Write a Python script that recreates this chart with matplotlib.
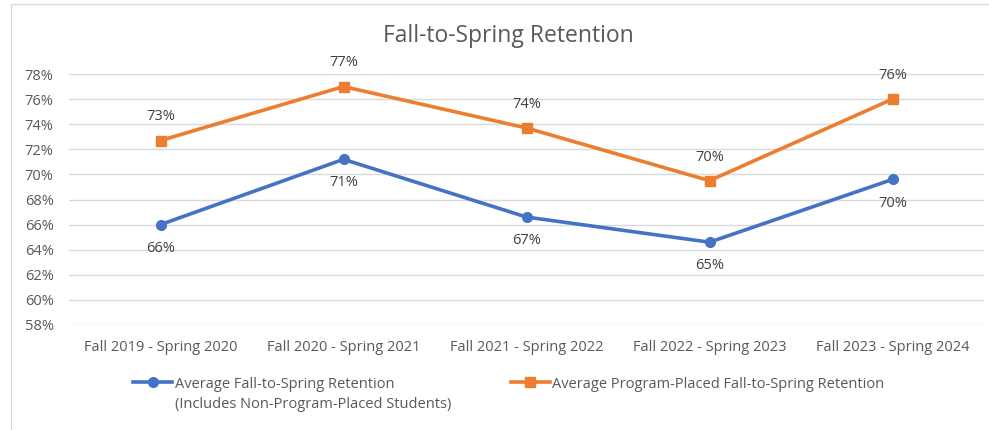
import numpy as np
import matplotlib.pyplot as plt
from matplotlib.patches import Rectangle

plt.rcParams['font.family'] = ['Open Sans', 'DejaVu Sans']

terms = ['Fall 2019 - Spring 2020', 'Fall 2020 - Spring 2021', 'Fall 2021 - Spring 2022',
         'Fall 2022 - Spring 2023', 'Fall 2023 - Spring 2024']
avg_all = [66.0, 71.2, 66.6, 64.6, 69.6]
avg_placed = [72.7, 77.0, 73.7, 69.5, 76.0]
yticks = list(range(58, 80, 2))

blue = '#4472C4'
orange = '#ED7D31'
txt = '#595959'

fig = plt.figure(figsize=(9.89, 4.30), dpi=100)
# chart frame (left and top edges visible, rest cropped)
fig.patches.append(Rectangle((11 / 989, -0.1), 1.1, 1.1 - 4 / 430,
                             transform=fig.transFigure, fill=False,
                             edgecolor='#d9d9d9', linewidth=1))
ax = fig.add_axes([69 / 989, 1 - 325 / 430, (984 - 69) / 989, (325 - 74) / 430])

x = np.arange(len(terms))
ax.plot(x, avg_all, color=blue, linewidth=2.6, marker='o', markersize=7,
        label='Average Fall-to-Spring Retention', zorder=3)
ax.plot(x, avg_placed, color=orange, linewidth=2.6, marker='s', markersize=7,
        label='Average Program-Placed Fall-to-Spring Retention', zorder=3)

for i in range(len(terms)):
    ax.annotate(f'{avg_all[i]:.0f}%', (x[i], avg_all[i]), xytext=(0, -17),
                textcoords='offset points', ha='center', va='center', fontsize=10.5, color='#404040')
    ax.annotate(f'{avg_placed[i]:.0f}%', (x[i], avg_placed[i]), xytext=(0, 17),
                textcoords='offset points', ha='center', va='center', fontsize=10.5, color='#404040')

ax.set_xlim(-0.5, 4.5)
ax.set_ylim(58, 78)
ax.set_yticks(yticks)
ax.set_yticklabels([f'{t}%' for t in yticks])
ax.set_xticks(x)
ax.set_xticklabels(terms)
ax.tick_params(length=0, colors=txt, labelsize=10.5)
ax.tick_params(axis='x', pad=11)
ax.tick_params(axis='y', pad=11)
ax.grid(axis='y', color='#d9d9d9', linewidth=1)
ax.set_axisbelow(True)
for s in ax.spines.values():
    s.set_visible(False)

fig.text(508 / 989, 1 - 36 / 430, 'Fall-to-Spring Retention', ha='center', va='center',
         fontsize=16.5, color=txt)

leg = fig.legend(loc='center left', bbox_to_anchor=(133 / 989, 1 - 384 / 430), ncol=2,
                 frameon=False, fontsize=10.5, handlelength=2.7, columnspacing=8.0,
                 handletextpad=0.15, borderaxespad=0, borderpad=0)
for t in leg.get_texts():
    t.set_color(txt)

# second line of the first legend label, placed under its first line
fig.canvas.draw()
bb = leg.get_texts()[0].get_window_extent().transformed(fig.transFigure.inverted())
fig.text(bb.x0, bb.y0 - 6 / 430, '(Includes Non-Program-Placed Students)', ha='left', va='top',
         fontsize=10.5, color=txt)

fig.savefig('out.png', dpi=100)
